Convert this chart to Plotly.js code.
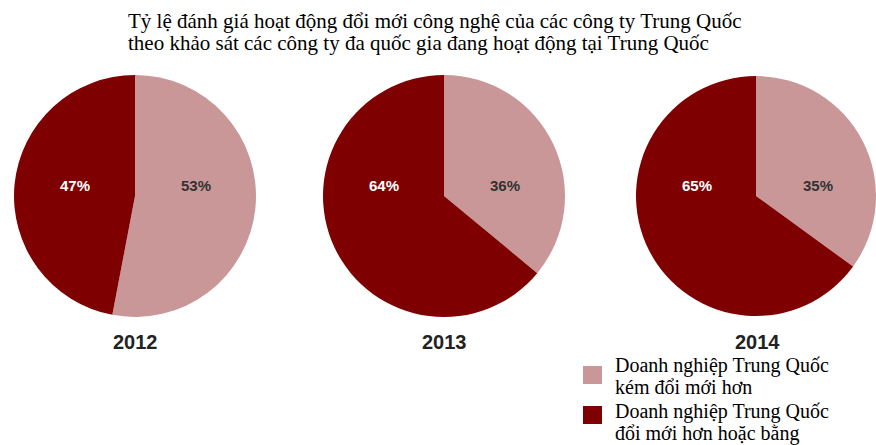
<!DOCTYPE html>
<html>
<head>
<meta charset="utf-8">
<script src="https://cdn.plot.ly/plotly-3.0.1.min.js"></script>
<style>html,body{margin:0;padding:0;background:#fff;overflow:hidden}#chart{width:876px;height:445px}</style>
</head>
<body>
<div id="chart"></div>
<script>
const years = ["2012", "2013", "2014"];
const categories = ["Doanh nghiệp Trung Quốc<br>kém đổi mới hơn", "Doanh nghiệp Trung Quốc<br>đổi mới hơn hoặc bằng"];
const lessInnovative = [53, 36, 35];
const moreOrEqual = [47, 64, 65];
const colors = ["#c99797", "#7f0000"];
const titleText = "Tỷ lệ đánh giá hoạt động đổi mới công nghệ của các công ty Trung Quốc<br>theo khảo sát các công ty đa quốc gia đang hoạt động tại Trung Quốc";

const W = 876, H = 445;
const centersX = [135, 444, 757];
const centerY = 196;
const R = 121;
const py = v => 1 - v / H;
const px = v => v / W;

const traces = [];
const annotations = [];
years.forEach((yr, i) => {
  const x0 = Math.max(0, centersX[i] - R), x1 = Math.min(W, centersX[i] + R);
  traces.push({
    type: "pie",
    values: [lessInnovative[i], moreOrEqual[i]],
    labels: ["less", "more"],
    sort: false,
    direction: "clockwise",
    rotation: 0,
    textinfo: "none",
    hoverinfo: "skip",
    marker: {colors: colors, line: {width: 0}},
    domain: {x: [px(x0), px(x1)], y: [py(centerY + R), py(centerY - R)]},
    showlegend: false
  });
  annotations.push({
    xref: "paper", yref: "paper", x: px(centersX[i] - 60), y: py(185), xanchor: "center", yanchor: "middle",
    text: "<b>" + moreOrEqual[i] + "%</b>", showarrow: false,
    font: {family: "Liberation Sans, Arial", size: 15, color: "#ffffff"}
  });
  annotations.push({
    xref: "paper", yref: "paper", x: px(centersX[i] + 61), y: py(185), xanchor: "center", yanchor: "middle",
    text: "<b>" + lessInnovative[i] + "%</b>", showarrow: false,
    font: {family: "Liberation Sans, Arial", size: 15, color: "#333333"}
  });
  annotations.push({
    xref: "paper", yref: "paper", x: px(centersX[i]), y: py(342), xanchor: "center", yanchor: "middle",
    text: "<b>" + yr + "</b>", showarrow: false,
    font: {family: "Liberation Sans, Arial", size: 20, color: "#222222"}
  });
});

// title, one annotation per line for tight line spacing
titleText.split("<br>").forEach((line, k) => {
  annotations.push({
    xref: "paper", yref: "paper", x: px(126), y: py(21 + 22 * k), xanchor: "left", yanchor: "middle",
    text: line, showarrow: false,
    font: {family: "Liberation Serif, Times New Roman", size: 21, color: "#000"}
  });
});

// legend
const legTop = [366, 406];
const legLineY = [[365, 387], [411, 433]];
const shapes = [];
categories.forEach((c, j) => {
  shapes.push({
    type: "rect", xref: "paper", yref: "paper",
    x0: px(583), x1: px(602), y0: py(legTop[j] + 18), y1: py(legTop[j]),
    fillcolor: colors[j], line: {width: 0}
  });
  c.split("<br>").forEach((line, k) => {
    annotations.push({
      xref: "paper", yref: "paper", x: px(613), y: py(legLineY[j][k]), xanchor: "left", yanchor: "middle",
      text: line, showarrow: false,
      font: {family: "Liberation Serif, Times New Roman", size: 20, color: "#000"}
    });
  });
});

const layout = {
  width: W, height: H,
  margin: {l: 0, r: 0, t: 0, b: 0},
  paper_bgcolor: "#fff",
  showlegend: false,
  annotations: annotations,
  shapes: shapes
};
Plotly.newPlot("chart", traces, layout, {staticPlot: true, displayModeBar: false});
</script>
</body>
</html>
